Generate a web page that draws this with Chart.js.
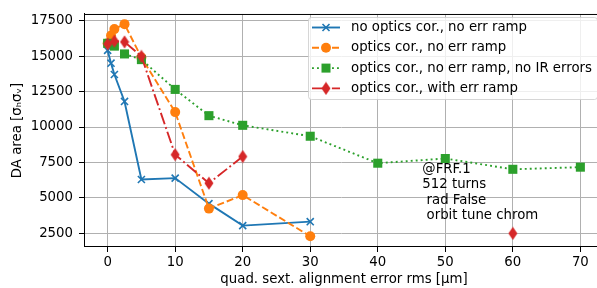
<!DOCTYPE html>
<html>
<head>
<meta charset="utf-8">
<script src="https://cdn.jsdelivr.net/npm/chart.js@4/dist/chart.umd.min.js"></script>
<style>
  html, body { margin: 0; padding: 0; overflow: hidden; background: #fff; }
  #c { display: block; }
</style>
</head>
<body>
<canvas id="c" width="597" height="288"></canvas>
<script>
// ── Data ──────────────────────────────────────────────────────────────────────
const xTicks = [0, 10, 20, 30, 40, 50, 60, 70]
const yTicks = [2500, 5000, 7500, 10000, 12500, 15000, 17500]

const noCorX = [0, 0.5, 1, 2.5, 5, 10, 15, 20, 30]
const noCorY = [15400, 14500, 13700, 11800, 6300, 6400, 4600, 3050, 3330]

const corX = [0, 0.5, 1, 2.5, 5, 10, 15, 20, 30]
const corY = [15900, 16450, 16900, 17250, 14900, 11050, 4250, 5200, 2300]

const noIrX = [0, 1, 2.5, 5, 10, 15, 20, 30, 40, 50, 60, 70]
const noIrY = [15900, 15700, 15150, 14750, 12650, 10800, 10120, 9350, 7450, 7780, 7020, 7170]

const rampX = [0, 1, 2.5, 5, 10, 15, 20, 30, 40, 50, 60]
const rampY = [15850, 16050, 16000, 14980, 8050, 6040, 7920, null, null, null, 2500]

const seriesLabels = [
  'no optics cor., no err ramp',
  'optics cor., no err ramp',
  'optics cor., no err ramp, no IR errors',
  'optics cor., with err ramp'
]
const noteLines = ['@FRF.1', '512 turns', ' rad False', ' orbit tune chrom']

// ── Styles ────────────────────────────────────────────────────────────────────
const FONT = 'DejaVu Sans'
const FS = 13.3
const BLUE = '#1f77b4', ORANGE = '#ff7f0e', GREEN = '#2ca02c', RED = '#d62728'
// the plot frame runs a few px past the right edge of the picture
const OVERHANG = 7

function thinDiamond(color) {
  const c = document.createElement('canvas')
  c.width = 10; c.height = 14
  const g = c.getContext('2d')
  g.fillStyle = color
  g.beginPath()
  g.moveTo(5, 0.5); g.lineTo(9.5, 7); g.lineTo(5, 13.5); g.lineTo(0.5, 7)
  g.closePath(); g.fill()
  return c
}
const redDiamond = thinDiamond(RED)

const pts = (xs, ys) => xs.map((x, i) => ({ x, y: ys[i] }))

const datasets = [
  { label: seriesLabels[0], data: pts(noCorX, noCorY), borderColor: BLUE, backgroundColor: BLUE,
    borderWidth: 1.9, pointStyle: 'crossRot', pointRadius: 5, pointBorderWidth: 1.6, order: 3 },
  { label: seriesLabels[1], data: pts(corX, corY), borderColor: ORANGE, backgroundColor: ORANGE,
    borderWidth: 1.9, borderDash: [7, 3], pointStyle: 'circle', pointRadius: 5, pointBorderWidth: 0, order: 2 },
  { label: seriesLabels[2], data: pts(noIrX, noIrY), borderColor: GREEN, backgroundColor: GREEN,
    borderWidth: 1.9, borderDash: [1.9, 3.1], pointStyle: 'rect', pointRadius: 6.4, pointBorderWidth: 0, order: 1 },
  { label: seriesLabels[3], data: pts(rampX, rampY), borderColor: RED, backgroundColor: RED,
    borderWidth: 1.9, borderDash: [12, 3, 1.9, 3], pointStyle: redDiamond, pointRadius: 6, order: 0 }
]

// ── Plugins ───────────────────────────────────────────────────────────────────
function drawMarker(ctx, ds, x, y) {
  ctx.save()
  ctx.fillStyle = ds.backgroundColor
  ctx.strokeStyle = ds.borderColor
  if (ds.pointStyle === 'crossRot') {
    ctx.lineWidth = 1.6
    ctx.beginPath()
    ctx.moveTo(x - 3.5, y - 3.5); ctx.lineTo(x + 3.5, y + 3.5)
    ctx.moveTo(x + 3.5, y - 3.5); ctx.lineTo(x - 3.5, y + 3.5)
    ctx.stroke()
  } else if (ds.pointStyle === 'circle') {
    ctx.beginPath(); ctx.arc(x, y, 5, 0, Math.PI * 2); ctx.fill()
  } else if (ds.pointStyle === 'rect') {
    ctx.fillRect(x - 4.5, y - 4.5, 9, 9)
  } else {
    ctx.drawImage(ds.pointStyle, x - 5, y - 7)
  }
  ctx.restore()
}

// push the chart area (and x scale) past the canvas edge
const overhangPlugin = {
  id: 'overhang',
  afterLayout(chart) {
    const x = chart.scales.x
    chart.chartArea.right += OVERHANG
    chart.chartArea.width += OVERHANG
    x.right += OVERHANG
    x.width += OVERHANG
    x.configure()
  }
}

const framePlugin = {
  id: 'frame',
  afterDatasetsDraw(chart) {
    const { ctx, chartArea: a } = chart
    ctx.save()
    ctx.strokeStyle = '#000'
    ctx.lineWidth = 1
    ctx.beginPath()
    ctx.moveTo(a.left, a.top + 0.5); ctx.lineTo(a.right, a.top + 0.5)
    ctx.moveTo(a.right - 0.5, a.top); ctx.lineTo(a.right - 0.5, a.bottom)
    ctx.stroke()
    ctx.restore()
  }
}

const notePlugin = {
  id: 'note',
  afterDatasetsDraw(chart) {
    const { ctx } = chart
    const x0 = chart.scales.x.getPixelForValue(46.6)
    const y0 = chart.scales.y.getPixelForValue(7000)
    ctx.save()
    ctx.fillStyle = '#000'
    ctx.font = `${FS}px "${FONT}"`
    ctx.textBaseline = 'middle'
    noteLines.forEach((t, i) => ctx.fillText(t, x0, y0 + i * 15.4))
    ctx.restore()
  }
}

const legendPlugin = {
  id: 'mplLegend',
  afterDraw(chart) {
    const { ctx } = chart
    const left = 308, top = 17, right = 597, bottom = 99
    ctx.save()
    ctx.beginPath()
    ctx.roundRect(left + 0.5, top + 0.5, right - left, bottom - top, 3)
    ctx.fillStyle = 'rgba(255,255,255,0.8)'
    ctx.fill()
    ctx.strokeStyle = 'rgba(204,204,204,0.8)'
    ctx.lineWidth = 1
    ctx.stroke()
    ctx.font = `${FS}px "${FONT}"`
    ctx.textBaseline = 'middle'
    datasets.forEach((ds, i) => {
      const y = 27.5 + i * 20.3
      ctx.save()
      ctx.strokeStyle = ds.borderColor
      ctx.lineWidth = ds.borderWidth
      ctx.setLineDash(ds.borderDash || [])
      ctx.beginPath(); ctx.moveTo(312, y); ctx.lineTo(340, y); ctx.stroke()
      ctx.restore()
      drawMarker(ctx, ds, 326, y)
      ctx.fillStyle = '#000'
      ctx.fillText(ds.label, 351, y)
    })
    ctx.restore()
  }
}

// ── Chart ─────────────────────────────────────────────────────────────────────
const setTicks = vals => scale => { scale.ticks = vals.map(v => ({ value: v })) }
const plain = v => String(v)

new Chart(document.getElementById('c'), {
  type: 'line',
  data: { datasets },
  plugins: [overhangPlugin, framePlugin, notePlugin, legendPlugin],
  options: {
    responsive: false,
    animation: false,
    devicePixelRatio: 1,
    spanGaps: false,
    layout: { autoPadding: false, padding: { top: 10, right: 0, left: 0, bottom: 0 } },
    plugins: { legend: { display: false }, tooltip: { enabled: false } },
    elements: { line: { tension: 0, fill: false } },
    scales: {
      x: {
        type: 'linear', min: -3.5, max: 73.5,
        afterBuildTicks: setTicks(xTicks),
        afterFit: s => { s.height = 41; s.paddingRight = 0; s.paddingLeft = 0 },
        grid: { color: '#b0b0b0', lineWidth: 1, tickLength: 5, tickColor: '#000' },
        border: { color: '#000', width: 1 },
        ticks: { color: '#000', font: { family: FONT, size: FS }, padding: 3, maxRotation: 0, callback: plain },
        title: { display: true, text: 'quad. sext. alignment error rms [μm]', color: '#000',
                 font: { family: FONT, size: FS }, padding: { top: 0, bottom: 0 } }
      },
      y: {
        type: 'linear', min: 1544, max: 17966,
        afterBuildTicks: setTicks(yTicks),
        afterFit: s => { s.width = 84 },
        grid: { color: '#b0b0b0', lineWidth: 1, tickLength: 5, tickColor: '#000' },
        border: { color: '#000', width: 1 },
        ticks: { color: '#000', font: { family: FONT, size: FS }, padding: 6, callback: plain },
        title: { display: true, text: 'DA area [σₕσᵥ]', color: '#000',
                 font: { family: FONT, size: FS }, padding: { top: 10, bottom: 0 } }
      }
    }
  }
})
</script>
</body>
</html>
